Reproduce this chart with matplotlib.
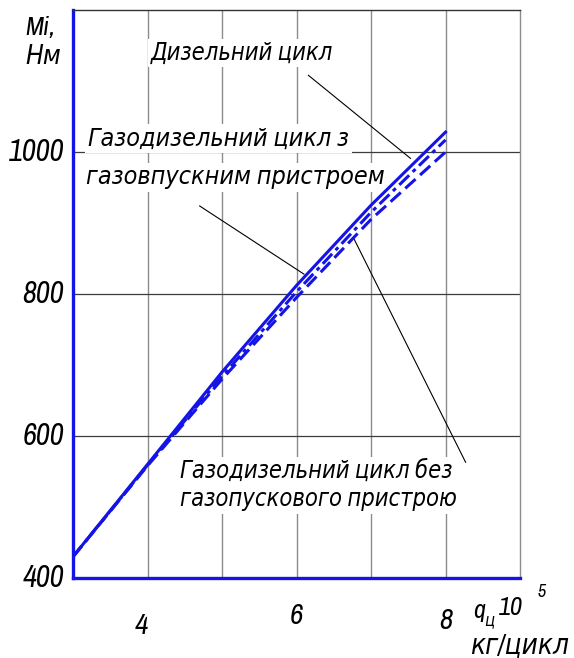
import matplotlib
matplotlib.use("Agg")
import matplotlib.pyplot as plt
from matplotlib import font_manager

# Дані кривих Mi = f(qц)
q = [3, 4, 5, 6, 7, 8]
mi_dizel = [430, 560, 690, 812, 925, 1028]
mi_gaz_z = [430, 559, 684, 803, 915, 1017]
mi_gaz_bez = [430, 558, 680, 795, 905, 1000]

y_ticks = [400, 600, 800, 1000]
x_ticks = [4, 6, 8]

blue = "#1414e6"

# шукаємо вузький курсивний шрифт (схожий на креслярський)
cond = [f for f in font_manager.fontManager.ttflist
        if "condensed" in str(f.stretch).lower() or "narrow" in f.name.lower()
        or "condensed" in f.name.lower()]
cond_names = sorted({f.name for f in cond})
fam = (cond_names[:1] if cond_names else []) + ["DejaVu Sans"]
stretch = "condensed" if cond_names else "normal"

fig = plt.figure(figsize=(5.74, 6.58), dpi=100)
ax = fig.add_axes([73 / 574, 80 / 658, 447 / 574, 568 / 658])
ax.set_xlim(3, 9)
ax.set_ylim(400, 1200)

# сітка
for xv in [4, 5, 6, 7, 8]:
    ax.axvline(xv, color="#8c8c8c", lw=1.0, zorder=1)
for yv in [600, 800, 1000]:
    ax.axhline(yv, color="#3c3c3c", lw=0.9, zorder=1)

ax.plot(q, mi_dizel, color=blue, lw=2.2, zorder=6)
ax.plot(q, mi_gaz_z, color=blue, lw=2.2, dashes=(4.5, 1.6, 1.3, 1.6), zorder=6)
ax.plot(q, mi_gaz_bez, color=blue, lw=2.2, dashes=(4.5, 2.0), zorder=6)

for s in ["left", "bottom"]:
    ax.spines[s].set_color(blue)
    ax.spines[s].set_linewidth(2.4)
ax.spines["top"].set_color("#333333")
ax.spines["top"].set_linewidth(1.0)
ax.spines["right"].set_color("#8c8c8c")
ax.spines["right"].set_linewidth(1.0)
ax.set_xticks([])
ax.set_yticks([])

txt = dict(family=fam, stretch=stretch, style="italic", color="black")

# підписи осі Y
for yv in y_ticks:
    ax.text(2.88, yv, str(yv), ha="right", va="center", fontsize=22,
            clip_on=False, **txt)

# підписи осі X (розміщені як на оригіналі)
x_tick_y = [333, 347, 340]
for xv, yy in zip(x_ticks, x_tick_y):
    ax.text(xv - 0.08 if xv == 4 else xv, yy, str(xv), ha="center", va="center",
            fontsize=21, clip_on=False, **txt)

ax.text(8.37, 354, "q", ha="left", va="center", fontsize=19, clip_on=False, **txt)
ax.text(8.52, 340, "ц", ha="left", va="center", fontsize=12, clip_on=False, **txt)
ax.text(8.72, 358, "10", ha="left", va="center", fontsize=19, clip_on=False, **txt)
ax.text(9.24, 380, "5", ha="left", va="center", fontsize=13, clip_on=False, **txt)
ax.text(8.33, 305, "кг/цикл", ha="left", va="center", fontsize=20,
        clip_on=False, **txt)

fig.text(25 / 574, (658 - 28) / 658, "Mi,", ha="left", va="center", fontsize=19, **txt)
fig.text(25 / 574, (658 - 57) / 658, "Нм", ha="left", va="center", fontsize=19, **txt)

box = dict(facecolor="white", edgecolor="none", pad=2)

ax.text(5.27, 1139, "Дизельний цикл", ha="center", va="center", fontsize=17,
        bbox=box, zorder=4, **txt)
ax.text(3.2, 1019, "Газодизельний цикл з", ha="left", va="center",
        fontsize=18, bbox=box, zorder=4, **txt)
ax.text(3.18, 964, "газовпускним пристроем", ha="left", va="center",
        fontsize=18, bbox=box, zorder=4, **txt)
ax.text(4.43, 531, "Газодизельний цикл без\nгазопускового пристрою", ha="left",
        va="center", fontsize=17, linespacing=1.4, bbox=box, zorder=4, **txt)

# виносні лінії
ax.plot([6.16, 7.53], [1108, 991], color="black", lw=0.8, zorder=5)
ax.plot([4.70, 6.10], [924, 828], color="black", lw=0.8, zorder=5)
ax.plot([6.77, 8.27], [878, 563], color="black", lw=0.8, zorder=5)

fig.savefig("out.png", dpi=100)
